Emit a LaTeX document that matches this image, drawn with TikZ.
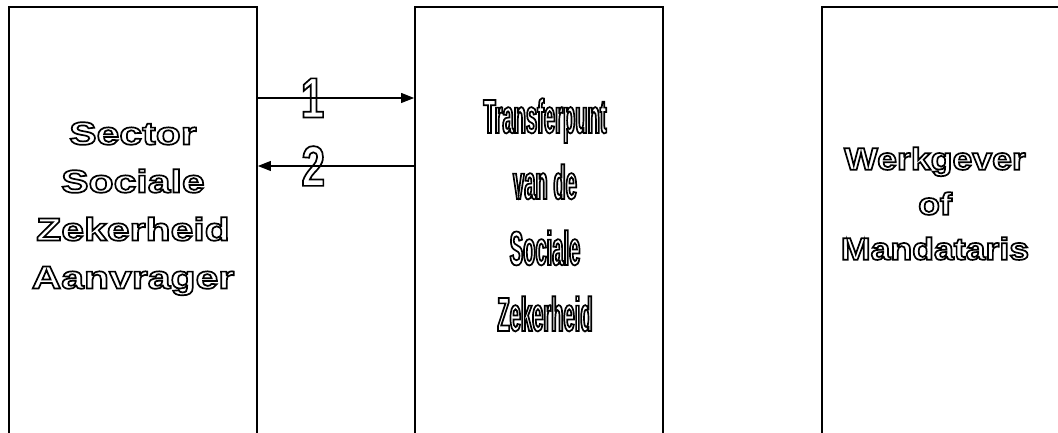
\documentclass[tikz,border=0pt]{standalone}
\usepackage{fontspec}
\setmainfont{Liberation Sans}
\newfontfamily\widefont{Liberation Sans Bold}[FakeStretch=1.28]
\newfontfamily\rightfont{Liberation Sans Bold}[FakeStretch=1.15]
\newfontfamily\narrowfont{Liberation Sans Bold}[FakeStretch=0.42]
\newfontfamily\digitfont{Liberation Sans Bold}[FakeStretch=0.74]
\usetikzlibrary{arrows.meta,positioning}

% hollow (stroked) letters
\newcommand{\hollowon}{\special{pdf:literal direct 1 Tr 1.7 w}}
\newcommand{\hollowoff}{\special{pdf:literal direct 0 Tr}}

\begin{document}
\begin{tikzpicture}[x=1pt,y=1pt,>={Triangle[length=13pt,width=10pt]},
  column/.style={draw,line width=1.8pt,minimum width=248pt,minimum height=460pt,inner sep=0pt},
  flow/.style={->,line width=1.1pt},
  title/.style={align=center,anchor=north,inner sep=0pt}]
  \useasboundingbox (0,0) rectangle (1058,433);

  % the three columns, open at the bottom
  \node[column] (sector) at (133,196) {};
  \node[column] (transfer) at (539,196) {};
  \node[column] (werkgever) at (946,196) {};

  \node[title,font=\widefont\fontsize{32}{48}\selectfont] (sectortxt) at (133,311)
    {\hollowon Sector\\Sociale\\Zekerheid\\Aanvrager\hollowoff};
  \node[title,font=\narrowfont\fontsize{48}{66}\selectfont] (transfertxt) at (545,335)
    {\hollowon Transferpunt\\van de\\Sociale\\Zekerheid\hollowoff};
  \node[title,font=\rightfont\fontsize{31}{45}\selectfont] (werkgevertxt) at (935,286)
    {\hollowon Werkgever\\of\\Mandataris\hollowoff};

  % messages
  \coordinate (r1) at (0,335);
  \coordinate (r2) at (0,267);
  \draw[flow] (sector.east |- r1) -- node[pos=0.35,font=\digitfont\fontsize{57}{57}\selectfont] (one) {\hollowon 1\hollowoff} (transfer.west |- r1);
  \draw[flow] (transfer.west |- r2) -- node[pos=0.645,font=\digitfont\fontsize{57}{57}\selectfont] (two) {\hollowon 2\hollowoff} (sector.east |- r2);
\end{tikzpicture}
\end{document}
